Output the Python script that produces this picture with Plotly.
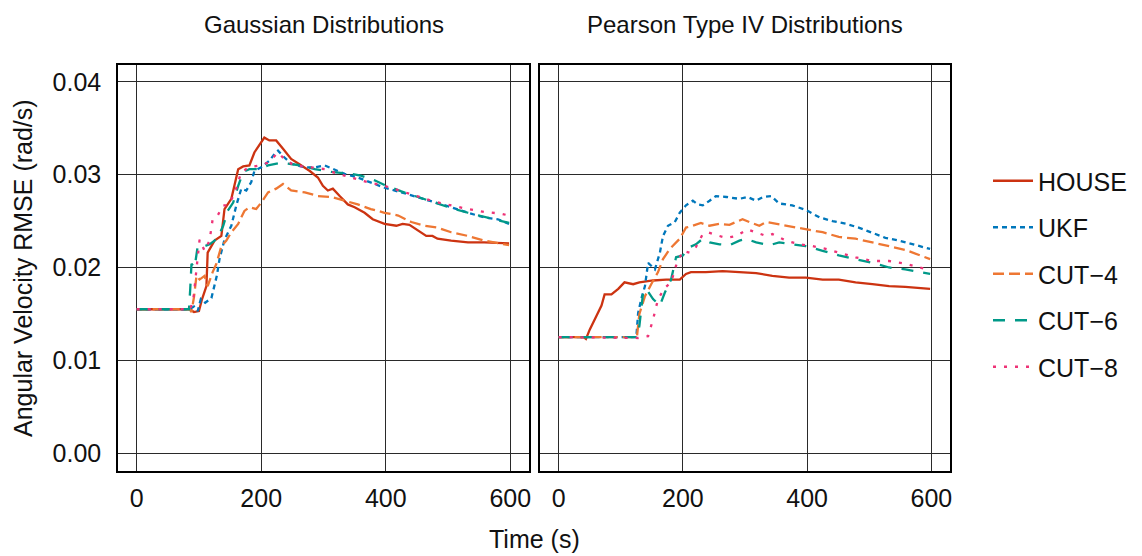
import plotly.graph_objects as go

# ---------------- data ----------------
series_names = ["HOUSE", "UKF", "CUT-4", "CUT-6", "CUT-8"]
legend_labels = ["HOUSE", "UKF", "CUT\u22124", "CUT\u22126", "CUT\u22128"]
panel_titles = ["Gaussian Distributions", "Pearson Type IV Distributions"]
x_ticks = [0, 200, 400, 600]
y_ticks = [0.00, 0.01, 0.02, 0.03, 0.04]
y_tick_labels = ["0.00", "0.01", "0.02", "0.03", "0.04"]

# Gaussian panel
g_house_t = [0, 85, 92, 100, 105, 112, 114, 125, 136, 141, 152, 163, 171, 181, 189, 195, 205, 213, 224,
             235, 248, 262, 278, 291, 299, 307, 315, 326, 339, 350, 366, 379, 398, 417, 427, 438, 451,
             465, 475, 483, 505, 532, 558, 598]
g_house_v = [0.0155, 0.0155, 0.0152, 0.0153, 0.0166, 0.0180, 0.0216, 0.0229, 0.0234, 0.0263, 0.0274,
             0.0306, 0.0309, 0.0310, 0.0324, 0.0330, 0.0340, 0.0337, 0.0337, 0.0328, 0.0317, 0.0311,
             0.0304, 0.0297, 0.0288, 0.0283, 0.0285, 0.0277, 0.0268, 0.0265, 0.0259, 0.0252, 0.0247,
             0.0245, 0.0247, 0.0246, 0.0240, 0.0234, 0.0234, 0.0231, 0.0229, 0.0227, 0.0227, 0.0226]

g_ukf_t = [0, 85, 92, 98, 103, 110, 120, 125, 129, 133, 141, 152, 160, 168, 176, 184, 189, 200, 213,
           221, 227, 235, 248, 270, 286, 302, 315, 334, 355, 376, 398, 425, 451, 478, 505, 532, 558,
           580, 598]
g_ukf_v = [0.0155, 0.0155, 0.0158, 0.0153, 0.0166, 0.0162, 0.0167, 0.0180, 0.0192, 0.0209, 0.0230,
           0.0245, 0.0267, 0.0285, 0.0283, 0.0292, 0.0304, 0.0308, 0.0315, 0.0322, 0.0326, 0.0320,
           0.0312, 0.0308, 0.0308, 0.0310, 0.0306, 0.0301, 0.0297, 0.0292, 0.0286, 0.0281, 0.0276,
           0.0270, 0.0265, 0.0259, 0.0254, 0.0252, 0.0247]

g_cut4_t = [0, 85, 88, 92, 96, 101, 109, 114, 122, 128, 136, 144, 152, 163, 173, 181, 192, 200, 211,
            224, 235, 248, 270, 291, 313, 334, 355, 376, 398, 420, 441, 463, 483, 505, 532, 558, 598]
g_cut4_v = [0.0155, 0.0155, 0.0152, 0.0168, 0.0191, 0.0187, 0.0191, 0.0180, 0.0195, 0.0204, 0.0223,
            0.0229, 0.0238, 0.0247, 0.0261, 0.0265, 0.0263, 0.0270, 0.0281, 0.0285, 0.0290, 0.0283,
            0.0281, 0.0277, 0.0276, 0.0272, 0.0268, 0.0263, 0.0259, 0.0256, 0.0249, 0.0245, 0.0243,
            0.0238, 0.0234, 0.0229, 0.0224]

g_cut6_t = [0, 84, 86, 88, 93, 98, 109, 117, 125, 130, 139, 146, 155, 163, 171, 181, 195, 211, 232,
            243, 264, 286, 313, 344, 360, 382, 398, 425, 451, 478, 505, 532, 558, 580, 598]
g_cut6_v = [0.0155, 0.0155, 0.0177, 0.0204, 0.0200, 0.0223, 0.0223, 0.0225, 0.0229, 0.0232, 0.0245,
            0.0261, 0.0270, 0.0288, 0.0303, 0.0306, 0.0306, 0.0310, 0.0313, 0.0312, 0.0310, 0.0306,
            0.0303, 0.0301, 0.0299, 0.0294, 0.0289, 0.0282, 0.0276, 0.0270, 0.0264, 0.0259, 0.0255,
            0.0251, 0.0248]

g_cut8_t = [0, 86, 91, 96, 101, 109, 117, 122, 130, 139, 146, 157, 168, 181, 197, 211, 227, 237, 253,
            280, 302, 323, 344, 371, 398, 425, 451, 478, 505, 532, 558, 585, 598]
g_cut8_v = [0.0155, 0.0155, 0.0166, 0.0202, 0.0230, 0.0218, 0.0229, 0.0252, 0.0256, 0.0267, 0.0267,
            0.0279, 0.0303, 0.0308, 0.0310, 0.0313, 0.0324, 0.0317, 0.0310, 0.0308, 0.0306, 0.0301,
            0.0297, 0.0292, 0.0288, 0.0282, 0.0277, 0.0271, 0.0267, 0.0263, 0.0260, 0.0258, 0.0256]

# Pearson Type IV panel
p_house_t = [0, 40, 44, 50, 61, 69, 74, 85, 96, 106, 120, 130, 152, 173, 195, 205, 213, 237, 264,
             291, 318, 344, 371, 398, 425, 451, 478, 505, 532, 558, 598]
p_house_v = [0.0125, 0.0125, 0.0123, 0.0133, 0.0148, 0.0159, 0.0171, 0.0171, 0.0177, 0.0184, 0.0182,
             0.0184, 0.0186, 0.0187, 0.0187, 0.0193, 0.0195, 0.0195, 0.0196, 0.0195, 0.0194, 0.0191,
             0.0189, 0.0189, 0.0187, 0.0187, 0.0184, 0.0182, 0.0180, 0.0179, 0.0177]

p_ukf_t = [0, 125, 128, 133, 139, 144, 155, 163, 168, 176, 187, 195, 205, 216, 224, 232, 243, 253,
           270, 291, 304, 318, 329, 342, 355, 376, 398, 420, 441, 463, 483, 505, 526, 548, 570, 598]
p_ukf_v = [0.0125, 0.0125, 0.0151, 0.0166, 0.0180, 0.0205, 0.0198, 0.0216, 0.0234, 0.0245, 0.0249,
           0.0259, 0.0267, 0.0272, 0.0268, 0.0267, 0.0272, 0.0277, 0.0276, 0.0274, 0.0276, 0.0272,
           0.0276, 0.0277, 0.0269, 0.0267, 0.0262, 0.0254, 0.0250, 0.0247, 0.0243, 0.0237, 0.0232,
           0.0229, 0.0225, 0.0220]

p_cut4_t = [0, 126, 130, 139, 149, 160, 168, 179, 195, 205, 216, 229, 243, 259, 275, 286, 296, 307,
            323, 334, 350, 371, 398, 425, 451, 478, 505, 532, 558, 598]
p_cut4_v = [0.0125, 0.0125, 0.0150, 0.0169, 0.0182, 0.0195, 0.0209, 0.0220, 0.0231, 0.0243, 0.0245,
            0.0248, 0.0245, 0.0247, 0.0246, 0.0249, 0.0252, 0.0249, 0.0245, 0.0249, 0.0247, 0.0245,
            0.0241, 0.0238, 0.0233, 0.0231, 0.0227, 0.0223, 0.0219, 0.0209]

p_cut6_t = [0, 126, 130, 136, 141, 152, 163, 171, 181, 189, 200, 211, 221, 232, 243, 259, 275, 291,
            302, 318, 339, 355, 376, 398, 425, 451, 478, 505, 532, 558, 598]
p_cut6_v = [0.0125, 0.0125, 0.0137, 0.0173, 0.0177, 0.0166, 0.0159, 0.0173, 0.0187, 0.0211, 0.0213,
            0.0222, 0.0225, 0.0231, 0.0227, 0.0225, 0.0224, 0.0229, 0.0231, 0.0227, 0.0224, 0.0227,
            0.0225, 0.0223, 0.0218, 0.0213, 0.0209, 0.0205, 0.0200, 0.0198, 0.0193]

p_cut8_t = [0, 128, 144, 152, 160, 171, 181, 189, 200, 211, 221, 232, 240, 253, 270, 286, 304, 318,
            334, 344, 366, 387, 409, 430, 451, 478, 505, 532, 558, 598]
p_cut8_v = [0.0125, 0.0124, 0.0126, 0.0144, 0.0166, 0.0178, 0.0184, 0.0202, 0.0218, 0.0216, 0.0222,
            0.0236, 0.0238, 0.0235, 0.0232, 0.0234, 0.0241, 0.0238, 0.0234, 0.0236, 0.0229, 0.0225,
            0.0223, 0.0220, 0.0216, 0.0211, 0.0207, 0.0207, 0.0204, 0.0197]

gauss_data = [(g_house_t, g_house_v), (g_ukf_t, g_ukf_v), (g_cut4_t, g_cut4_v),
              (g_cut6_t, g_cut6_v), (g_cut8_t, g_cut8_v)]
pearson_data = [(p_house_t, p_house_v), (p_ukf_t, p_ukf_v), (p_cut4_t, p_cut4_v),
                (p_cut6_t, p_cut6_v), (p_cut8_t, p_cut8_v)]

# ---------------- styles ----------------
colors = ["#CC3311", "#0077BB", "#EE7733", "#009988", "#EE3377"]
dashes = ["solid", "5px,4px", "11px,5px", "12px,10px", "3px,8px"]
FONT = "Liberation Sans, Arial, sans-serif"
FS = 25

fig = go.Figure()
for panel, data in enumerate([gauss_data, pearson_data]):
    xa = "x" if panel == 0 else "x2"
    ya = "y" if panel == 0 else "y2"
    for i, (t, v) in enumerate(data):
        fig.add_trace(go.Scatter(
            x=t, y=v, mode="lines", name=legend_labels[i],
            line=dict(color=colors[i], width=2.3, dash=dashes[i]),
            xaxis=xa, yaxis=ya, showlegend=(panel == 0),
            legendgroup=series_names[i],
        ))

# page offset (body margin) compensation
OX, OY = 8, 8
W, H = 1142, 556
pw, ph = 832, 406
L = 118 - OX
T = 65 - OY
R = W - L - pw
B = H - T - ph
left_dom = [0, 411 / pw]
right_dom = [422 / pw, 1]


def px_x(p):  # target screenshot pixel -> paper x
    return (p - OX - L) / pw


def px_y(p):  # target screenshot pixel -> paper y
    return (T + ph - (p - OY)) / ph


axis_common = dict(
    showline=True, mirror=True, linecolor="black", linewidth=1.5,
    showgrid=True, gridcolor="#2a2a2a", gridwidth=1, zeroline=False,
    ticks="outside", tickcolor="rgba(0,0,0,0)",
    tickfont=dict(family=FONT, size=FS, color="#111"),
    automargin=False,
)
xr = [-30, 630]
yr = [-0.00194, 0.04183]

fig.update_layout(
    width=W, height=H,
    margin=dict(l=L, r=R, t=T, b=B, pad=0, autoexpand=False),
    paper_bgcolor="white", plot_bgcolor="white",
    font=dict(family=FONT, size=FS, color="#111"),
    xaxis=dict(domain=left_dom, range=xr, tickvals=x_ticks, anchor="y", ticklen=4, **axis_common),
    xaxis2=dict(domain=right_dom, range=xr, tickvals=x_ticks, anchor="y2", ticklen=4, **axis_common),
    yaxis=dict(domain=[0, 1], range=yr, tickvals=y_ticks, ticktext=y_tick_labels,
               anchor="x", ticklen=10, **axis_common),
    yaxis2=dict(domain=[0, 1], range=yr, tickvals=y_ticks, showticklabels=False,
                anchor="x2", ticklen=10, **axis_common),
    legend=dict(x=px_x(988), y=px_y(274), xanchor="left", yanchor="middle",
                font=dict(family=FONT, size=FS, color="#111"),
                tracegroupgap=11, itemwidth=40, bgcolor="rgba(0,0,0,0)"),
    showlegend=True,
)

annotations = [
    dict(text=panel_titles[0], x=(left_dom[0] + left_dom[1]) / 2, y=px_y(25),
         xref="paper", yref="paper", showarrow=False, xanchor="center", yanchor="middle",
         font=dict(family=FONT, size=FS - 1, color="#111")),
    dict(text=panel_titles[1], x=(right_dom[0] + right_dom[1]) / 2, y=px_y(25),
         xref="paper", yref="paper", showarrow=False, xanchor="center", yanchor="middle",
         font=dict(family=FONT, size=FS - 1, color="#111")),
    dict(text="Time (s)", x=0.5, y=px_y(539), xref="paper", yref="paper",
         showarrow=False, xanchor="center", yanchor="middle",
         font=dict(family=FONT, size=FS, color="#111")),
    dict(text="Angular Velocity RMSE (rad/s)", x=px_x(23), y=0.5, xref="paper", yref="paper",
         showarrow=False, xanchor="center", yanchor="middle", textangle=-90,
         font=dict(family=FONT, size=FS, color="#111")),
]
fig.update_layout(annotations=annotations)

fig.write_html("out.html")
